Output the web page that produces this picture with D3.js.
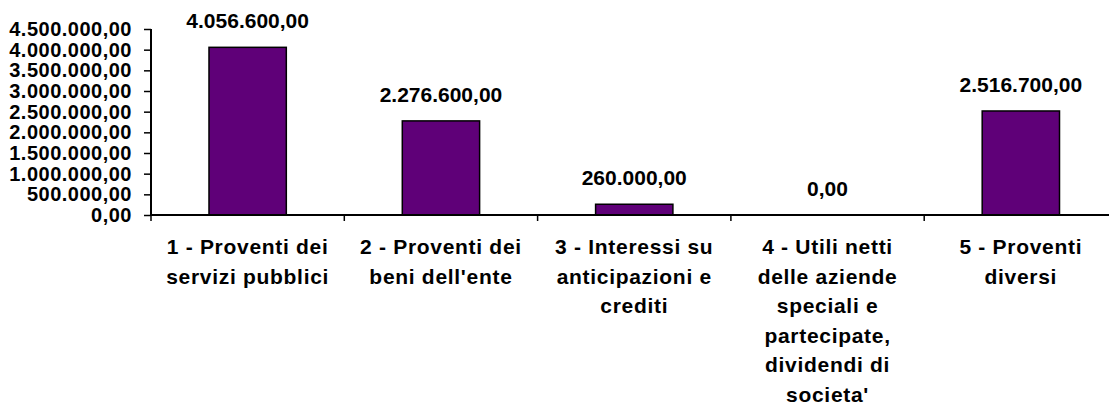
<!DOCTYPE html>
<html>
<head>
<meta charset="utf-8">
<script src="https://cdn.jsdelivr.net/npm/d3@7"></script>
<style>
  body { margin: 0; background: #fff; }
  svg { display: block; font-family: "Liberation Sans", Arial, sans-serif; font-weight: bold; }
</style>
</head>
<body>
<div id="chart"></div>
<script>
var categories = ["1", "2", "3", "4", "5"];
var categoryLines = [
  ["1 - Proventi dei", "servizi pubblici"],
  ["2 - Proventi dei", "beni dell'ente"],
  ["3 - Interessi su", "anticipazioni e", "crediti"],
  ["4 - Utili netti", "delle aziende", "speciali e", "partecipate,", "dividendi di", "societa'"],
  ["5 - Proventi", "diversi"]
];
var values = [4056600, 2276600, 260000, 0, 2516700];
var yTicks = [0, 500000, 1000000, 1500000, 2000000, 2500000, 3000000, 3500000, 4000000, 4500000];

var width = 1109, height = 406;
var plotLeft = 151, plotRight = 1117.5, plotTop = 29, plotBottom = 215;

var locale = d3.formatLocale({decimal: ",", thousands: ".", grouping: [3], currency: ["", ""]});
var fmt = locale.format(",.2f");

var svg = d3.select("#chart").append("svg")
    .attr("width", width)
    .attr("height", height);

var x = d3.scaleBand()
    .domain(categories)
    .range([plotLeft, plotRight])
    .paddingInner(0.6)
    .paddingOuter(0.3);

var y = d3.scaleLinear()
    .domain([0, 4500000])
    .range([plotBottom, plotTop]);

// bars
svg.selectAll(".bar")
    .data(values)
    .enter()
    .append("rect")
    .attr("class", "bar")
    .attr("x", function(d, i) { return x(categories[i]); })
    .attr("width", x.bandwidth())
    .attr("y", function(d) { return y(d); })
    .attr("height", function(d) { return y(0) - y(d); })
    .attr("fill", "#5f0078")
    .attr("stroke", function(d) { return d > 0 ? "#000" : "none"; })
    .attr("stroke-width", 1.5);

// value labels
svg.selectAll(".val")
    .data(values)
    .enter()
    .append("text")
    .attr("class", "val")
    .attr("x", function(d, i) { return x(categories[i]) + x.bandwidth() / 2; })
    .attr("y", function(d) { return y(d) - 19; })
    .attr("text-anchor", "middle")
    .style("font-size", "21px")
    .text(function(d) { return fmt(d); });

// y axis
var yAxis = svg.append("g")
    .attr("transform", "translate(" + plotLeft + ",0)")
    .call(d3.axisLeft(y).tickValues(yTicks).tickSize(7).tickPadding(12).tickFormat(fmt));
yAxis.select(".domain").attr("stroke", "#000").attr("stroke-width", 2)
    .attr("d", "M0," + plotTop + "V" + plotBottom);
yAxis.selectAll(".tick line").attr("stroke", "#000").attr("stroke-width", 1.5);
yAxis.selectAll(".tick text")
    .attr("fill", "#000")
    .style("font-size", "20px")
    .style("letter-spacing", "0.5px")
    .style("font-family", "'Liberation Sans', Arial, sans-serif")
    .style("font-weight", "bold");

// x axis
var step = x.step();
var xAxis = svg.append("g").attr("transform", "translate(0," + plotBottom + ")");
xAxis.append("line")
    .attr("x1", plotLeft).attr("x2", plotRight)
    .attr("stroke", "#000").attr("stroke-width", 2);
xAxis.selectAll(".xtick")
    .data(categories)
    .enter()
    .append("line")
    .attr("class", "xtick")
    .attr("x1", function(d) { return x(d) - step * 0.3; })
    .attr("x2", function(d) { return x(d) - step * 0.3; })
    .attr("y1", 0).attr("y2", 6)
    .attr("stroke", "#000").attr("stroke-width", 1.5);

// category labels
var lab = svg.selectAll(".cat")
    .data(categories)
    .enter()
    .append("text")
    .attr("class", "cat")
    .attr("text-anchor", "middle")
    .style("font-size", "21px")
    .style("letter-spacing", "0.7px");
lab.selectAll("tspan")
    .data(function(d, i) { return categoryLines[i].map(function(t) { return {t: t, c: d}; }); })
    .enter()
    .append("tspan")
    .attr("x", function(d) { return x(d.c) + x.bandwidth() / 2; })
    .attr("y", function(d, j) { return 254 + j * 29.5; })
    .text(function(d) { return d.t; });
</script>
</body>
</html>
